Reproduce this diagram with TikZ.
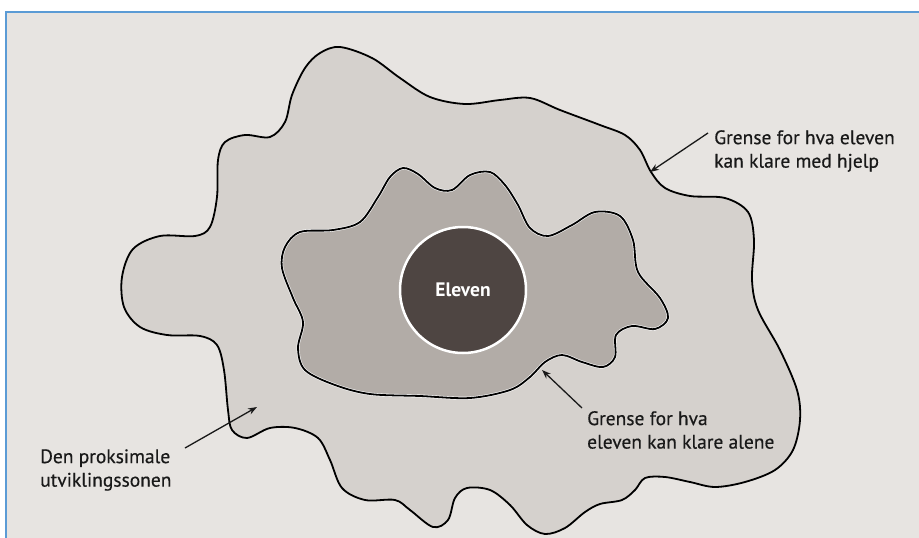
\documentclass[tikz,border=0pt]{standalone}
\usepackage{fontspec}
\setmainfont{PT Sans}
\newfontfamily\merkfont{PT Sans}[FakeBold=0.4]
\usetikzlibrary{arrows.meta}

\definecolor{papir}{RGB}{231,228,225}
\definecolor{ytre}{RGB}{213,209,205}
\definecolor{indre}{RGB}{178,172,167}
\definecolor{kjerne}{RGB}{78,69,66}
\definecolor{ramme}{RGB}{91,155,213}
\definecolor{tekst}{RGB}{25,25,25}

\begin{document}
\begin{tikzpicture}[x=1pt, y=-1pt, >=Stealth,
    grense/.style={draw=black, line width=1.8pt, line join=round},
    pil/.style={draw=tekst, line width=1.3pt, -{Stealth[length=9pt, width=6.5pt]}},
    merk/.style={align=left, inner sep=0pt, anchor=west, text=tekst,
      font=\merkfont\fontsize{19.5}{23.5}\selectfont}]
        \useasboundingbox (0,0) rectangle (919,538);

        % Paper and frame
        \fill[white] (0,0) rectangle (919,538);
        \fill[papir] (7,13) rectangle (919,538);
        \draw[ramme, line width=2pt] (6,538) -- (6,12) -- (919,12);

        % Outer boundary
        \draw[grense, fill=ytre] plot[smooth cycle, tension=0.55] coordinates {
          (340,47) (372,58) (400,78) (430,97) (465,104) (500,100) (530,98)
          (560,110) (600,125) (625,135) (640,150) (651,172) (665,188) (690,196)
          (725,198) (748,212) (754,240) (752,280) (758,310) (780,350) (797,390)
          (800,420) (793,450) (775,470) (745,482) (715,487) (690,482) (665,477)
          (645,478) (635,490) (622,500) (600,504) (585,512) (565,528) (545,534)
          (527,525) (510,505) (490,490) (467,488) (455,498) (448,520) (433,527)
          (410,510) (395,500) (365,500) (342,488) (330,460) (318,438) (295,428)
          (270,428) (247,438) (232,430) (228,410) (224,370) (217,345) (200,336)
          (167,335) (140,327) (124,307) (122,277) (133,249) (160,236) (195,236)
          (210,227) (217,197) (218,160) (225,142) (245,135) (270,137) (285,122)
          (292,95) (305,68) (320,53)};

        % Inner boundary
        \draw[white, line width=3pt, fill=indre] plot[smooth cycle, tension=0.55] coordinates {
          (403,168) (418,174) (435,188) (452,190) (470,175) (490,172) (505,185)
          (518,205) (530,228) (548,236) (572,225) (595,212) (620,216) (633,240)
          (638,272) (660,298) (668,318) (655,329) (632,326) (616,335) (615,357)
          (603,367) (582,362) (562,355) (545,362) (530,377) (510,390) (470,398)
          (420,396) (370,394) (335,385) (305,370) (298,348) (303,322) (293,298)
          (282,268) (285,247) (300,232) (333,230) (360,222) (378,197) (390,177)};
        \draw[grense] plot[smooth cycle, tension=0.55] coordinates {
          (403,168) (418,174) (435,188) (452,190) (470,175) (490,172) (505,185)
          (518,205) (530,228) (548,236) (572,225) (595,212) (620,216) (633,240)
          (638,272) (660,298) (668,318) (655,329) (632,326) (616,335) (615,357)
          (603,367) (582,362) (562,355) (545,362) (530,377) (510,390) (470,398)
          (420,396) (370,394) (335,385) (305,370) (298,348) (303,322) (293,298)
          (282,268) (285,247) (300,232) (333,230) (360,222) (378,197) (390,177)};

        % Nodes
        \node[circle, minimum size=126pt, fill=kjerne, draw=white, line width=2.5pt,
          text=white, font=\fontsize{19.5}{22}\selectfont\bfseries] (eleven) at (463,290) {Eleven};
        \node[merk] (hjelp) at (714,151) {Grense for hva eleven\\kan klare med hjelp};
        \node[merk] (alene) at (587,430) {Grense for hva\\eleven kan klare alene};
        \node[merk] (sone)  at (40,470)  {Den proksimale\\utviklingssonen};

        \coordinate (hjelpspiss) at (650,172);
        \coordinate (alenespiss) at (542,370);
        \coordinate (sonespiss)  at (257,407);

        % Edges
        \draw[pil] ([xshift=-6pt, yshift=18pt]hjelp.west) -- (hjelpspiss);
        \draw[pil] ([xshift=-5pt, yshift=22pt]alene.west) -- (alenespiss);
        \draw[pil] ([xshift=145pt, yshift=22pt]sone.west) -- (sonespiss);
\end{tikzpicture}
\end{document}
